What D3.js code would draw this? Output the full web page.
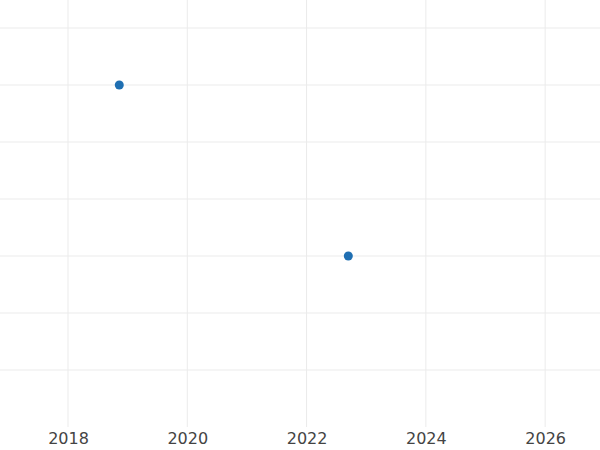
<!DOCTYPE html>
<html><head><meta charset="utf-8">
<script src="https://cdn.jsdelivr.net/npm/d3@7"></script>
<style>body{margin:0;background:#fff}</style></head>
<body><svg id="c" width="600" height="450"></svg>
<script>
const years = [2018.86, 2022.70];
const values = [6, 3];
const xTicks = [2018, 2020, 2022, 2024, 2026];
const yTicks = [1, 2, 3, 4, 5, 6, 7];

const svg = d3.select("#c");
const x = d3.scaleLinear().domain([2016.86, 2026.92]).range([0, 600]);
const y = d3.scaleLinear().domain([0, 7]).range([427, 28]);

svg.append("g").selectAll("line").data(xTicks).join("line")
  .attr("x1", d => x(d)).attr("x2", d => x(d)).attr("y1", 0).attr("y2", 427)
  .attr("stroke", "#ebebeb");
svg.append("g").selectAll("line").data(yTicks).join("line")
  .attr("x1", 0).attr("x2", 600).attr("y1", d => y(d)).attr("y2", d => y(d))
  .attr("stroke", "#ebebeb");

const ax = svg.append("g").attr("transform", "translate(0,427)")
  .call(d3.axisBottom(x).tickValues(xTicks).tickFormat(d3.format("d")).tickSize(0).tickPadding(6));
ax.select(".domain").remove();
ax.selectAll("text").attr("font-family", "DejaVu Sans").attr("font-size", 16).attr("fill", "#444");

svg.append("g").selectAll("circle").data(years).join("circle")
  .attr("cx", d => x(d)).attr("cy", (d, i) => y(values[i])).attr("r", 4.5)
  .attr("fill", "#1f6fb2");
</script></body></html>
